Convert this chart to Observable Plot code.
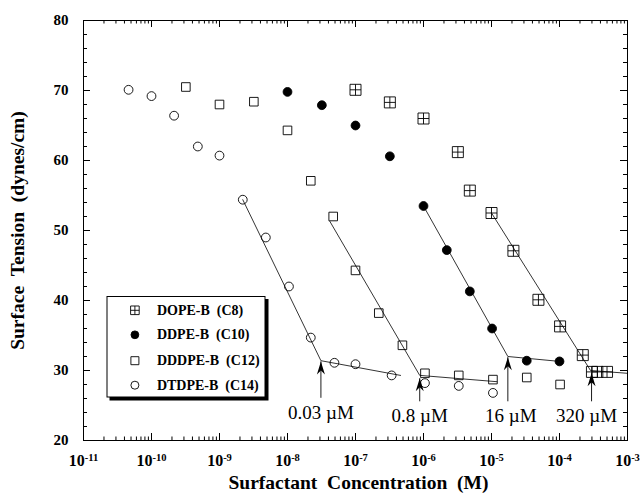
<!DOCTYPE html>
<html>
<head>
<meta charset="utf-8">
<script src="https://cdn.jsdelivr.net/npm/d3@7"></script>
<script src="https://cdn.jsdelivr.net/npm/@observablehq/plot@0.6"></script>
<style>
html, body { margin: 0; padding: 0; background: #fff; }
</style>
</head>
<body>
<div id="chart"></div>
<script>
// ---- Data ----
// DOPE-B (C8)
const c8Conc = [1e-7, 3.2e-7, 1e-6, 3.2e-6, 4.8e-6, 1e-5, 2.1e-5, 4.9e-5, 1.02e-4, 2.2e-4, 3.0e-4, 3.6e-4, 5e-4];
const c8Tension = [70.1, 68.3, 66.0, 61.2, 55.7, 52.5, 47.1, 40.1, 36.3, 32.2, 29.8, 29.8, 29.8];
// DDPE-B (C10)
const c10Conc = [1e-8, 3.2e-8, 1e-7, 3.2e-7, 1e-6, 2.2e-6, 4.8e-6, 1.02e-5, 3.3e-5, 1e-4];
const c10Tension = [69.8, 67.9, 65.0, 60.6, 53.5, 47.2, 41.3, 36.0, 31.4, 31.3];
// DDDPE-B (C12)
const c12Conc = [3.2e-10, 1e-9, 3.2e-9, 1e-8, 2.2e-8, 4.7e-8, 1e-7, 2.2e-7, 4.9e-7, 1.05e-6, 3.3e-6, 1.05e-5, 3.3e-5, 1.02e-4];
const c12Tension = [70.5, 68.0, 68.4, 64.3, 57.1, 52.0, 44.3, 38.2, 33.6, 29.6, 29.3, 28.7, 29.0, 28.0];
// DTDPE-B (C14)
const c14Conc = [4.6e-11, 1e-10, 2.15e-10, 4.8e-10, 1e-9, 2.2e-9, 4.8e-9, 1.05e-8, 2.2e-8, 4.9e-8, 1e-7, 3.4e-7, 1.05e-6, 3.3e-6, 1.05e-5];
const c14Tension = [70.1, 69.2, 66.4, 62.0, 60.7, 54.4, 49.0, 42.0, 34.7, 31.1, 30.9, 29.3, 28.2, 27.8, 26.8];

// fitted line segments: [concentration, tension] (steep part, break, plateau)
const c8Fit = [[1e-5, 52.5], [2.86e-4, 30.0], [1e-3, 29.6]];
const c10Fit = [[1e-6, 53.5], [1.74e-5, 32.0], [1e-4, 31.3]];
const c12Fit = [[4.2e-8, 51.3], [8.8e-7, 29.3], [1.2e-5, 28.4]];
const c14Fit = [[2.2e-9, 54.4], [3.1e-8, 31.4], [4.6e-7, 29.3]];

// CMC arrows and labels
const cmcConc = [3.1e-8, 8.8e-7, 1.74e-5, 2.96e-4];
const cmcLabels = ["0.03 \u00b5M", "0.8 \u00b5M", "16 \u00b5M", "320 \u00b5M"];
const cmcTip = [31.3, 28.9, 31.9, 29.6];
const cmcTail = [26.1, 25.6, 25.6, 25.6];
const cmcLabelY = [24.0, 23.5, 23.5, 23.5];

const legendLabels = ["DOPE-B \u00a0(C8)", "DDPE-B \u00a0(C10)", "DDDPE-B \u00a0(C12)", "DTDPE-B \u00a0(C14)"];
const xTitle = "Surfactant \u00a0Concentration \u00a0(M)";
const yTitle = "Surface \u00a0Tension \u00a0(dynes/cm)";

// axis ticks
const xDecades = [1e-11, 1e-10, 1e-9, 1e-8, 1e-7, 1e-6, 1e-5, 1e-4, 1e-3];
const yMajor = [20, 30, 40, 50, 60, 70, 80];

// ---- layout (not data) ----
const legendLayout = { symbolConc: 5.7e-11, textConc: 1.2e-10, rows: [38.6, 35.1, 31.4, 27.9] };
const cmcLabelDx = [0, 0, 3, -5];

// ---- symbols ----
const squarePlus = { draw(ctx, size) { const h = Math.sqrt(size / Math.PI);
  ctx.moveTo(-h, -h); ctx.lineTo(h, -h); ctx.lineTo(h, h); ctx.lineTo(-h, h); ctx.closePath();
  ctx.moveTo(-h, 0); ctx.lineTo(h, 0); ctx.moveTo(0, -h); ctx.lineTo(0, h); } };
const squareOpen = { draw(ctx, size) { const h = Math.sqrt(size / Math.PI);
  ctx.moveTo(-h, -h); ctx.lineTo(h, -h); ctx.lineTo(h, h); ctx.lineTo(-h, h); ctx.closePath(); } };
const arrowHead = { draw(ctx) { ctx.moveTo(0, 0); ctx.lineTo(4, 13); ctx.lineTo(0, 9); ctx.lineTo(-4, 13); ctx.closePath(); } };

const series = [
  { conc: c8Conc, tension: c8Tension, fit: c8Fit, symbol: squarePlus, fill: "none", r: 5.5, lr: 4.3 },
  { conc: c10Conc, tension: c10Tension, fit: c10Fit, symbol: "circle", fill: "black", r: 4.4, lr: 3.9 },
  { conc: c12Conc, tension: c12Tension, fit: c12Fit, symbol: squareOpen, fill: "none", r: 4.3, lr: 4.0 },
  { conc: c14Conc, tension: c14Tension, fit: c14Fit, symbol: "circle", fill: "none", r: 4.4, lr: 4.0 }
];

const xMinor = xDecades.slice(0, -1).flatMap(d => [2, 3, 4, 5, 6, 7, 8, 9].map(k => k * d));
const yMinor = d3.range(22, 80, 2).filter(v => v % 10 !== 0);
const pxX = 68, pxY = 7; // px per decade / per dyne (from frame size)
const xIn = (c, px) => c * Math.pow(10, px / pxX);

const marks = [];
// fitted lines
for (const s of series) {
  marks.push(Plot.line(s.fit, { x: d => d[0], y: d => d[1], stroke: "black", strokeWidth: 0.8 }));
}
// data points
for (const s of series) {
  const rows = s.conc.map((c, i) => ({ c, t: s.tension[i] }));
  marks.push(Plot.dot(rows, { x: "c", y: "t", symbol: s.symbol, r: s.r, fill: s.fill, stroke: "black", strokeWidth: 0.9 }));
}
// CMC arrows
const cmcRows = cmcConc.map((c, i) => ({ c, tip: cmcTip[i], tail: cmcTail[i], ly: cmcLabelY[i], label: cmcLabels[i], dx: cmcLabelDx[i] }));
marks.push(Plot.link(cmcRows, { x1: "c", x2: "c", y1: "tail", y2: "tip", stroke: "black", strokeWidth: 0.9 }));
marks.push(Plot.dot(cmcRows, { x: "c", y: "tip", symbol: arrowHead, fill: "black", stroke: "none" }));
cmcRows.forEach(r => marks.push(Plot.text([r], { x: "c", y: "ly", text: "label", dx: r.dx, fontSize: 19, fill: "black" })));

// legend (shadow + box + entries)
marks.push(Plot.frame({ fill: "black", stroke: "black", insetLeft: 26.5, insetTop: 279, insetRight: 359.5, insetBottom: 40.5 }));
marks.push(Plot.frame({ fill: "white", stroke: "black", strokeWidth: 1, insetLeft: 23.5, insetTop: 276, insetRight: 362.5, insetBottom: 43.5 }));
series.forEach((s, i) => {
  marks.push(Plot.dot([i], { x: () => legendLayout.symbolConc, y: () => legendLayout.rows[i], symbol: s.symbol, r: s.lr, fill: s.fill, stroke: "black", strokeWidth: 0.9 }));
});
marks.push(Plot.text(legendLabels, { x: () => legendLayout.textConc, y: (d, i) => legendLayout.rows[i], textAnchor: "start", fontSize: 14, fontWeight: "bold", fill: "black" }));

// inward tick marks on all four sides
marks.push(Plot.ruleX(xDecades, { x: d => d, y1: () => 20, y2: () => 20 + 7 / pxY, stroke: "black" }));
marks.push(Plot.ruleX(xMinor, { x: d => d, y1: () => 20, y2: () => 20 + 3.5 / pxY, stroke: "black" }));
marks.push(Plot.ruleX(xDecades, { x: d => d, y1: () => 80, y2: () => 80 - 7 / pxY, stroke: "black" }));
marks.push(Plot.ruleX(xMinor, { x: d => d, y1: () => 80, y2: () => 80 - 3.5 / pxY, stroke: "black" }));
marks.push(Plot.ruleY(yMajor, { y: d => d, x1: () => 1e-11, x2: () => xIn(1e-11, 7), stroke: "black" }));
marks.push(Plot.ruleY(yMinor, { y: d => d, x1: () => 1e-11, x2: () => xIn(1e-11, 4), stroke: "black" }));
marks.push(Plot.ruleY(yMajor, { y: d => d, x1: () => 1e-3, x2: () => xIn(1e-3, -7), stroke: "black" }));
marks.push(Plot.ruleY(yMinor, { y: d => d, x1: () => 1e-3, x2: () => xIn(1e-3, -4), stroke: "black" }));

// axes
marks.push(Plot.axisX({ ticks: xDecades, tickSize: 0, tickPadding: 14, fontSize: 16, fontWeight: "bold", label: null,
  tickFormat: d => "10^" + Math.round(Math.log10(d)) }));
marks.push(Plot.axisY({ ticks: yMajor, tickSize: 0, tickPadding: 15, fontSize: 15, fontWeight: "bold", label: null }));
marks.push(Plot.text([xTitle], { frameAnchor: "bottom", textAnchor: "middle", dy: 48, dx: 3, fontSize: 19.5, fontWeight: "bold", fill: "black" }));
marks.push(Plot.text([yTitle], { frameAnchor: "left", textAnchor: "middle", rotate: -90, dx: -66, fontSize: 19.5, fontWeight: "bold", fill: "black" }));
marks.push(Plot.frame({ stroke: "black", strokeWidth: 1 }));

const svg = Plot.plot({
  width: 644, height: 499,
  marginLeft: 83, marginRight: 17, marginTop: 20, marginBottom: 59,
  x: { type: "log", domain: [1e-11, 1e-3] },
  y: { domain: [20, 80] },
  style: { fontFamily: '"Liberation Serif", "Times New Roman", serif', background: "white", color: "black", overflow: "visible" },
  marks
});

// superscript exponents on the x tick labels
d3.select(svg).selectAll('g[aria-label="x-axis tick label"] text').each(function () {
  const [base, exp] = this.textContent.split("^");
  const t = d3.select(this);
  t.text(null);
  t.append("tspan").text(base);
  t.append("tspan").attr("dy", -5).attr("font-size", "10.5px").text(exp);
});

document.getElementById("chart").appendChild(svg);
</script>
</body>
</html>
